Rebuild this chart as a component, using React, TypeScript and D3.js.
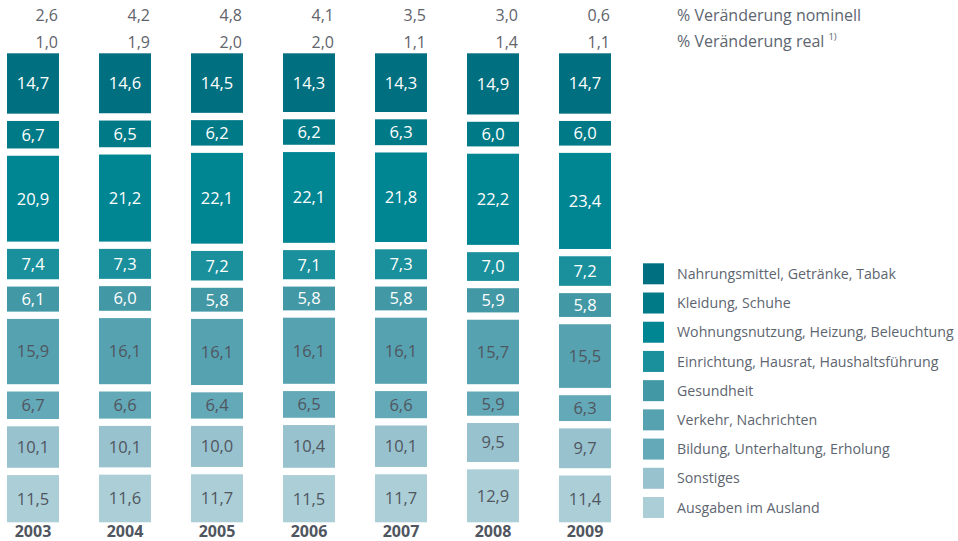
import React from "react";
import * as d3 from "d3";

const years = ["2003", "2004", "2005", "2006", "2007", "2008", "2009"];
const nominal = [2.6, 4.2, 4.8, 4.1, 3.5, 3.0, 0.6];
const real = [1.0, 1.9, 2.0, 2.0, 1.1, 1.4, 1.1];

const categories = [
  "Nahrungsmittel, Getränke, Tabak",
  "Kleidung, Schuhe",
  "Wohnungsnutzung, Heizung, Beleuchtung",
  "Einrichtung, Hausrat, Haushaltsführung",
  "Gesundheit",
  "Verkehr, Nachrichten",
  "Bildung, Unterhaltung, Erholung",
  "Sonstiges",
  "Ausgaben im Ausland",
];

const nahrung = [14.7, 14.6, 14.5, 14.3, 14.3, 14.9, 14.7];
const kleidung = [6.7, 6.5, 6.2, 6.2, 6.3, 6.0, 6.0];
const wohnung = [20.9, 21.2, 22.1, 22.1, 21.8, 22.2, 23.4];
const einrichtung = [7.4, 7.3, 7.2, 7.1, 7.3, 7.0, 7.2];
const gesundheit = [6.1, 6.0, 5.8, 5.8, 5.8, 5.9, 5.8];
const verkehr = [15.9, 16.1, 16.1, 16.1, 16.1, 15.7, 15.5];
const bildung = [6.7, 6.6, 6.4, 6.5, 6.6, 5.9, 6.3];
const sonstiges = [10.1, 10.1, 10.0, 10.4, 10.1, 9.5, 9.7];
const ausland = [11.5, 11.6, 11.7, 11.5, 11.7, 12.9, 11.4];

const series = [nahrung, kleidung, wohnung, einrichtung, gesundheit, verkehr, bildung, sonstiges, ausland];

const colors = ["#006f80", "#007a87", "#008592", "#1a909c", "#4398a6", "#56a2b1", "#64a9b8", "#98c2ce", "#accfd7"];
const lightText = [true, true, true, true, true, false, false, false, false];

const fmt = d3.formatLocale({ decimal: ",", thousands: ".", grouping: [3], currency: ["", "€"] }).format(".1f");

export default function App() {
  const width = 958, height = 541;
  const top = 53.3, bottom = 522.3, gap = 7.3;
  const font = "'Open Sans', sans-serif";

  const x = d3.scaleBand().domain(years).range([7, 611]).paddingInner(40 / 92).paddingOuter(0);
  const y = d3.scaleLinear().domain([0, 100]).range([0, bottom - top - gap * (categories.length - 1)]);

  // one row per year, keys = categories (top to bottom in the bar)
  const rows = years.map((yr, i) => {
    const r: any = { year: yr };
    categories.forEach((c, j) => (r[c] = series[j][i]));
    return r;
  });
  const stacked = d3.stack().keys(categories)(rows);

  const legendY = d3.scaleLinear().domain([0, categories.length - 1]).range([263.3, 497]);

  return (
    <svg width={width} height={height} style={{ position: "absolute", left: 0, top: 0 }} fontFamily={font}>
      {stacked.map((layer, j) => (
        <g key={layer.key}>
          {layer.map((d, i) => {
            const y0 = top + y(d[0]) + j * gap;
            const h = y(d[1]) - y(d[0]);
            const bx = x(years[i]) as number;
            return (
              <g key={years[i]}>
                <rect x={bx} y={y0} width={x.bandwidth()} height={h} fill={colors[j]} />
                <text
                  x={bx + x.bandwidth() / 2}
                  y={y0 + h / 2}
                  dy="0.36em"
                  textAnchor="middle"
                  fontSize={16.5}
                  fill={lightText[j] ? "#ffffff" : "#50565f"}
                >
                  {fmt(d[1] - d[0])}
                </text>
              </g>
            );
          })}
        </g>
      ))}

      {years.map((yr, i) => {
        const bx = x(yr) as number;
        return (
          <g key={yr}>
            <text x={bx + x.bandwidth() - 1} y={21.3} textAnchor="end" fontSize={16} fill="#5f636b">
              {fmt(nominal[i])}
            </text>
            <text x={bx + x.bandwidth() - 1} y={48} textAnchor="end" fontSize={16} fill="#5f636b">
              {fmt(real[i])}
            </text>
            <text x={bx + x.bandwidth() / 2} y={537} textAnchor="middle" fontSize={16} fontWeight="bold" fill="#50565f">
              {yr}
            </text>
          </g>
        );
      })}

      <text x={677} y={20.7} fontSize={16} fill="#5d6570">% Veränderung nominell</text>
      <text x={677} y={46.7} fontSize={16} fill="#5d6570">
        % Veränderung real
        <tspan dx={4} dy={-7} fontSize={9.5}>1)</tspan>
      </text>

      {categories.map((c, j) => (
        <g key={c} transform={`translate(643, ${legendY(j)})`}>
          <rect width={21} height={21} fill={colors[j]} />
          <text x={34} y={10.5} dy="0.36em" fontSize={14.2} fill="#5d6570">{c}</text>
        </g>
      ))}
    </svg>
  );
}
